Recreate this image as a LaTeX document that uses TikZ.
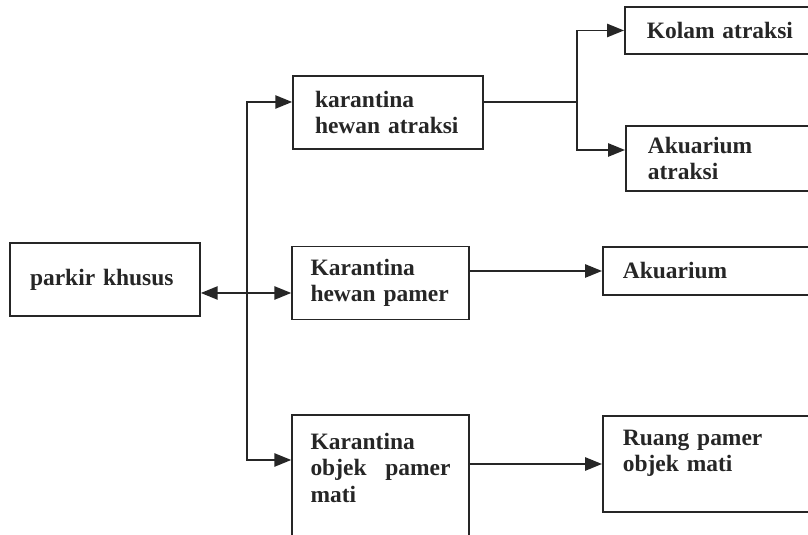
\documentclass[tikz,border=0pt]{standalone}
\usepackage{fontspec}
\setmainfont{Liberation Serif}
\usetikzlibrary{arrows.meta}
\tikzset{
  room/.style={rectangle,draw=black!85,line width=1.2pt,align=left,
    font=\fontsize{16.7}{18.9}\selectfont\bfseries,text=black!85,inner xsep=0.5cm},
  link/.style={line width=1.2pt,draw=black!85},
  arrow/.style={link,-{Triangle[length=0.42cm,width=0.33cm]}},
  twoway/.style={link,{Triangle[length=0.42cm,width=0.33cm]}-{Triangle[length=0.42cm,width=0.33cm]}}
}
\begin{document}
\begin{tikzpicture}[x=1cm,y=1cm]
  \useasboundingbox (0,0) rectangle (20.2,13.375);
  % asal
  \node[room,text width=3.75cm,minimum height=1.825cm] (parkir) at (2.625,6.3875) {parkir khusus};
  % karantina
  \node[room,text width=3.65cm,inner xsep=0.55cm,minimum height=1.825cm] (atraksi) at (9.7,10.5625)
    {karantina\\hewan atraksi};
  \node[room,text width=3.5cm,inner xsep=0.46cm,minimum height=1.825cm] (pamer) at (9.5125,6.3)
    {Karantina\\hewan pamer};
  \node[room,text width=3.5cm,inner xsep=0.46cm,inner ysep=0.45cm,anchor=north] (mati) at (9.5125,3.025)
    {Karantina\\objek\hfill pamer\\mati\\\mbox{}};
  % tujuan
  \node[room,text width=4.45cm,inner xsep=0.55cm,minimum height=1.175cm,anchor=west] (kolam) at (15.6,12.6125)
    {Kolam atraksi};
  \node[room,text width=4.45cm,inner xsep=0.55cm,minimum height=1.625cm,anchor=west] (akuatr) at (15.625,9.4125)
    {Akuarium\\atraksi};
  \node[room,text width=4.6cm,minimum height=1.2cm,anchor=west] (akuarium) at (15.05,6.6) {Akuarium};
  \node[room,text width=4.6cm,minimum height=2.4cm,anchor=west] (ruang) at (15.05,1.775)
    {\makebox[3.45cm][s]{Ruang pamer}\\objek mati\\\mbox{}};
  % sambungan
  \coordinate (simpang) at (6.175,6.05);
  \coordinate (cabang) at (14.425,10.825);
  \draw[twoway] ([yshift=-0.3375cm]parkir.east) -- ([yshift=-0.25cm]pamer.west);
  \draw[arrow] (simpang) |- ([yshift=0.2625cm]atraksi.west);
  \draw[arrow] (simpang) |- ([yshift=-1.15cm]mati.north west);
  \draw[link] ([yshift=0.2625cm]atraksi.east) -- (cabang);
  \draw[arrow] (cabang) |- (kolam.west);
  \draw[arrow] (cabang) |- ([yshift=0.2125cm]akuatr.west);
  \draw[arrow] (pamer.east |- akuarium.west) -- (akuarium.west);
  \draw[arrow] (mati.east |- ruang.west) -- (ruang.west);
\end{tikzpicture}
\end{document}
